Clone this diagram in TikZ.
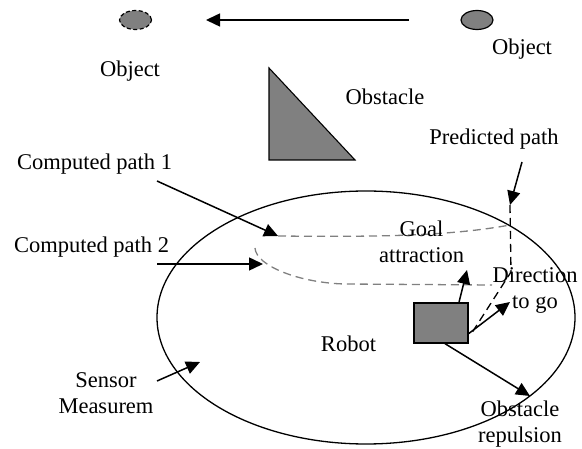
\documentclass[tikz,border=0pt]{standalone}
\usepackage{fontspec}
\setmainfont{Liberation Serif}
\usetikzlibrary{arrows.meta,shapes.geometric,calc}
\definecolor{fillgray}{RGB}{128,128,128}
\begin{document}
\begin{tikzpicture}[x=1pt,y=-1pt,
  lbl/.style={font=\fontsize{22.5}{26}\selectfont, inner sep=0pt, align=center, anchor=base},
  arr/.style={line width=1.5pt, -{Triangle[length=14pt,width=13pt]}},
  gpath/.style={draw=fillgray, line width=1.3pt, dash pattern=on 8pt off 5pt},
  bpath/.style={draw=black, line width=1.3pt, dash pattern=on 8pt off 5pt},
  objshape/.style={ellipse, draw, fill=fillgray, line width=1.2pt, minimum width=32pt, minimum height=19pt, inner sep=0pt}]
\useasboundingbox (0,0) rectangle (582,449);

% sensor range
\node[ellipse, draw, line width=1.3pt, minimum width=418pt, minimum height=253pt, inner sep=0pt] (range) at (366,317.5) {};

% objects
\node[objshape, dash pattern=on 4pt off 2.5pt] (objold) at (135.5,20) {};
\node[objshape] (objnew) at (477,20) {};
\coordinate (mvstart) at (409,20);
\coordinate (mvend) at (206,20);
\draw[arr] (mvstart) -- (mvend);

\node[lbl] (lobjold) at (130,77) {Object};
\node[lbl] (lobjnew) at (522,55) {Object};

% obstacle
\draw[fill=fillgray, line width=1.1pt] (269,68) -- (269,160) -- (355,160) -- cycle;
\node[lbl] (lobst) at (385,105) {Obstacle};

% robot
\node[draw, fill=fillgray, line width=1.3pt, minimum width=54pt, minimum height=40pt, inner sep=0pt] (robot) at (441,323) {};
\node[lbl] (lrobot) at (348.5,352) {Robot};

% computed paths
\coordinate (p1s) at (278,236);
\coordinate (p1e) at (510,225);
\draw[gpath] (p1s) .. controls (380,237) and (450,236) .. (p1e);
\coordinate (p2s) at (255,248);
\coordinate (p2m) at (345,284);
\coordinate (p2e) at (492,285);
\draw[gpath] (p2s) .. controls (256,266) and (300,283) .. (p2m) -- (p2e);

\node[lbl] (lcp1) at (94.5,170) {Computed path 1};
\node[lbl] (lcp2) at (91.5,253) {Computed path 2};
\coordinate (cp1a) at (157,181);
\coordinate (cp2a) at (157,264);
\coordinate (cp2b) at (263,264);
\draw[arr] (cp1a) -- (p1s);
\draw[arr] (cp2a) -- (cp2b);

% predicted path
\node[lbl] (lpred) at (494,145) {Predicted path};
\coordinate (ppa) at (522,162);
\coordinate (ppb) at (510,205);
\coordinate (ppc) at (511,272);
\draw[arr] (ppa) -- (ppb);
\draw[bpath] (ppb) -- (ppc) -- ([xshift=4pt,yshift=12pt]robot.south east);

% force arrows
\coordinate (goaltip) at (467,270);
\coordinate (dirtip) at (510,302);
\coordinate (reptip) at (530,396);
\draw[arr] ([xshift=18pt]robot.north) -- (goaltip);
\draw[arr] ([yshift=10pt]robot.south east) -- (dirtip);
\draw[arr] ([xshift=4pt]robot.south) -- (reptip);

\node[lbl] (lgoal) at (421.5,263) {Goal\\attraction};
\node[lbl] (ldir) at (535,309) {Direction\\to go};
\node[lbl] (lrep) at (520,443) {Obstacle\\repulsion};

% sensor
\node[lbl] (lsensor) at (106,414) {Sensor\\Measurem};
\coordinate (sa) at (157,381);
\coordinate (sb) at (200,362);
\draw[arr] (sa) -- (sb);
\end{tikzpicture}
\end{document}
